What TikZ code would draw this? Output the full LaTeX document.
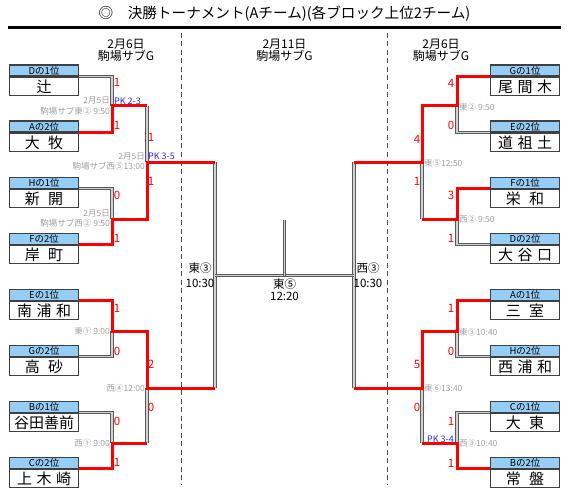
\documentclass[tikz,border=0pt]{standalone}
\usepackage{fontspec}
\setmainfont{Noto Sans CJK JP}
\definecolor{hdrblue}{RGB}{150,205,245}
\definecolor{pkblue}{RGB}{40,40,255}
\definecolor{tgray}{RGB}{160,160,160}
\newcommand\teambox[5]{%
  \node[hdrbox, anchor=north west] (h#1) at (#2,#3) {#4};
  \node[namebox, anchor=north] (n#1) at (h#1.south) {#5};
}
\begin{document}
\begin{tikzpicture}[x=1pt,y=-1pt,
  hdrbox/.style={draw=black!75, line width=1.2pt, fill=hdrblue, minimum width=69pt, minimum height=11pt, inner sep=0pt, font=\fontsize{9.5}{9.5}\selectfont},
  namebox/.style={draw=black!75, line width=1.2pt, fill=white, minimum width=69pt, minimum height=18.5pt, inner sep=0pt, font=\fontsize{15}{15}\selectfont},
  rl/.style={draw=red, line width=3pt},
  gl/.style={draw=black!65, line width=0.9pt, double=black!18, double distance=1.3pt},
  score/.style={text=red, font=\fontsize{11.5}{11.5}\selectfont, inner sep=0pt},
  tinfo/.style={text=tgray, font=\fontsize{8.5}{8.5}\selectfont, inner sep=0pt},
  pk/.style={text=pkblue, font=\fontsize{9}{9}\selectfont, inner sep=0pt},
  ctr/.style={font=\fontsize{11.5}{11.5}\selectfont, inner sep=0pt},
  datef/.style={font=\fontsize{12}{12}\selectfont, inner sep=0pt},
  dline/.style={draw=black!70, line width=0.8pt, dash pattern=on 5pt off 3.5pt},
]
\useasboundingbox (0,0) rectangle (569,497);

% title and header
\node[font=\fontsize{14.6}{14.6}\selectfont, inner sep=0pt] (title) at (284.5,14) {◎　決勝トーナメント(Aチーム)(各ブロック上位2チーム)};
\coordinate (tl) at (8,28);
\coordinate (tr) at (561,28);
\draw[line width=3pt] (tl) -- (tr);
\node[datef] (d1a) at (126,44) {2月6日};
\node[datef] (d1b) at (126,56) {駒場サブG};
\node[datef] (d2a) at (284.5,44) {2月11日};
\node[datef] (d2b) at (284.5,56) {駒場サブG};
\node[datef] (d3a) at (441,44) {2月6日};
\node[datef] (d3b) at (441,56) {駒場サブG};

% dashed separators
\coordinate (s1t) at (181,33); \coordinate (s1b) at (181,485);
\coordinate (s2t) at (387,33); \coordinate (s2b) at (387,485);
\draw[dline] (s1t) -- (s1b);
\draw[dline] (s2t) -- (s2b);

% team boxes left
\teambox{LD}{9}{64.5}{Dの1位}{辻}
\teambox{LA}{9}{120.5}{Aの2位}{大\hspace{0.55em}牧}
\teambox{LH}{9}{176.5}{Hの1位}{新\hspace{0.55em}開}
\teambox{LF}{9}{232.5}{Fの2位}{岸\hspace{0.55em}町}
\teambox{LE}{9}{288.5}{Eの1位}{南\hspace{0.3em}浦\hspace{0.3em}和}
\teambox{LG}{9}{344.5}{Gの2位}{高\hspace{0.55em}砂}
\teambox{LB}{9}{400.5}{Bの1位}{谷田善前}
\teambox{LC}{9}{456.5}{Cの2位}{上\hspace{0.3em}木\hspace{0.3em}崎}
% team boxes right
\teambox{RG}{490}{64.5}{Gの1位}{尾\hspace{0.3em}間\hspace{0.3em}木}
\teambox{RE}{490}{120.5}{Eの2位}{道\hspace{0.3em}祖\hspace{0.3em}土}
\teambox{RF}{490}{176.5}{Fの1位}{栄\hspace{0.55em}和}
\teambox{RD}{490}{232.5}{Dの2位}{大\hspace{0.3em}谷\hspace{0.3em}口}
\teambox{RA}{490}{288.5}{Aの1位}{三\hspace{0.55em}室}
\teambox{RH}{490}{344.5}{Hの2位}{西\hspace{0.3em}浦\hspace{0.3em}和}
\teambox{RC}{490}{400.5}{Cの1位}{大\hspace{0.55em}東}
\teambox{RB}{490}{456.5}{Bの2位}{常\hspace{0.55em}盤}

% bracket coordinates left
\coordinate (a1) at (112,106); \coordinate (a2) at (112,219);
\coordinate (a3) at (112,331); \coordinate (a4) at (112,443);
\coordinate (b1) at (147,106); \coordinate (b2) at (147,219);
\coordinate (b3) at (147,331); \coordinate (b4) at (147,443);
\coordinate (c1) at (147,162); \coordinate (c2) at (147,388);
\coordinate (e1) at (215,162); \coordinate (e2) at (215,388);
\coordinate (em) at (215,275.5);
% right
\coordinate (ra1) at (457,106); \coordinate (ra2) at (457,219);
\coordinate (ra3) at (457,331); \coordinate (ra4) at (457,443);
\coordinate (rb1) at (422,106); \coordinate (rb2) at (422,219);
\coordinate (rb3) at (422,331); \coordinate (rb4) at (422,443);
\coordinate (rc1) at (422,162); \coordinate (rc2) at (422,388);
\coordinate (re1) at (354,162); \coordinate (re2) at (354,388);
\coordinate (rem) at (354,275.5);
% final
\coordinate (fm) at (284.5,275.5);
\coordinate (ft) at (284.5,220);

% gray (not advancing) lines
\draw[gl] (hLD.south east) -| (a1);
\draw[gl] (b1) -- (c1);
\draw[gl] (hLH.south east) -| (a2);
\draw[gl] (hLG.south east) -| (a3);
\draw[gl] (hLB.south east) -| (a4);
\draw[gl] (b4) -- (c2);
\draw[gl] (e1) -- (e2);
\draw[gl] (hRE.south west) -| (ra1);
\draw[gl] (hRD.south west) -| (ra2);
\draw[gl] (rb2) -- (rc1);
\draw[gl] (hRH.south west) -| (ra3);
\draw[gl] (hRC.south west) -| (ra4);
\draw[gl] (rb4) -- (rc2);
\draw[gl] (re1) -- (re2);
\draw[gl] (em) -- (rem);
\draw[gl] (ft) -- (fm);

% red (winner) lines
\draw[rl] (hLA.south east) -| (a1) -- (b1);
\draw[rl] (hLF.south east) -| (a2) -- (b2) -- (c1) -- (e1);
\draw[rl] (hLE.south east) -| (a3) -- (b3) -- (c2) -- (e2);
\draw[rl] (hLC.south east) -| (a4) -- (b4);
\draw[rl] (hRG.south west) -| (ra1) -- (rb1) -- (rc1) -- (re1);
\draw[rl] (hRF.south west) -| (ra2) -- (rb2);
\draw[rl] (hRA.south west) -| (ra3) -- (rb3) -- (rc2) -- (re2);
\draw[rl] (hRB.south west) -| (ra4) -- (rb4);

% scores left
\node[score] (sl1) at (117,82) {1};
\node[score] (sl2) at (117,125) {1};
\node[score] (sl3) at (117,195) {0};
\node[score] (sl4) at (117,238) {1};
\node[score] (sl5) at (117,308) {1};
\node[score] (sl6) at (117,351) {0};
\node[score] (sl7) at (117,421) {0};
\node[score] (sl8) at (117,462) {1};
\node[score] (sm1) at (151,137) {1};
\node[score] (sm2) at (151,181) {1};
\node[score] (sm3) at (151,364) {2};
\node[score] (sm4) at (151,407) {0};
% scores right
\node[score] (sr1) at (451,83) {4};
\node[score] (sr2) at (451,125) {0};
\node[score] (sr3) at (451,195) {3};
\node[score] (sr4) at (451,238) {1};
\node[score] (sr5) at (451,308) {1};
\node[score] (sr6) at (451,351) {0};
\node[score] (sr7) at (451,421) {1};
\node[score] (sr8) at (451,463) {1};
\node[score] (srm1) at (417,139) {4};
\node[score] (srm2) at (417,181) {1};
\node[score] (srm3) at (417,364) {5};
\node[score] (srm4) at (417,407) {0};

% match info left
\node[tinfo, anchor=east] (i1a) at (110,101) {2月5日};
\node[tinfo, anchor=east] (i1b) at (110,111) {駒場サブ東② 9:50};
\node[pk, anchor=west] (pk1) at (114,101) {PK 2-3};
\node[tinfo, anchor=east] (i2a) at (145,156) {2月5日};
\node[tinfo, anchor=east] (i2b) at (145,166) {駒場サブ西⑤13:00};
\node[pk, anchor=west] (pk2) at (148,156) {PK 3-5};
\node[tinfo, anchor=east] (i3a) at (110,213) {2月5日};
\node[tinfo, anchor=east] (i3b) at (110,223) {駒場サブ西② 9:50};
\node[tinfo, anchor=east] (i4) at (110,331.5) {東① 9:00};
\node[tinfo, anchor=east] (i5) at (145,388) {西④12:00};
\node[tinfo, anchor=east] (i6) at (110,443) {西① 9:00};
% match info right
\node[tinfo, anchor=west] (j1) at (459,107) {東② 9:50};
\node[tinfo, anchor=west] (j2) at (424,163) {東⑤12:50};
\node[tinfo, anchor=west] (j3) at (459,219) {西② 9:50};
\node[tinfo, anchor=west] (j4) at (459,332) {東③10:40};
\node[tinfo, anchor=west] (j5) at (424,388) {東⑥13:40};
\node[tinfo, anchor=west] (j6) at (459,443) {西③10:40};
\node[pk, anchor=east] (pk3) at (454,439) {PK 3-4};

% center labels
\node[ctr] (cl1) at (200,268) {東③};
\node[ctr] (cl2) at (200,283) {10:30};
\node[ctr] (cr1) at (368,268) {西③};
\node[ctr] (cr2) at (368,283) {10:30};
\node[ctr] (cf1) at (284.5,284) {東⑤};
\node[ctr] (cf2) at (284.5,296) {12:20};
\end{tikzpicture}
\end{document}
